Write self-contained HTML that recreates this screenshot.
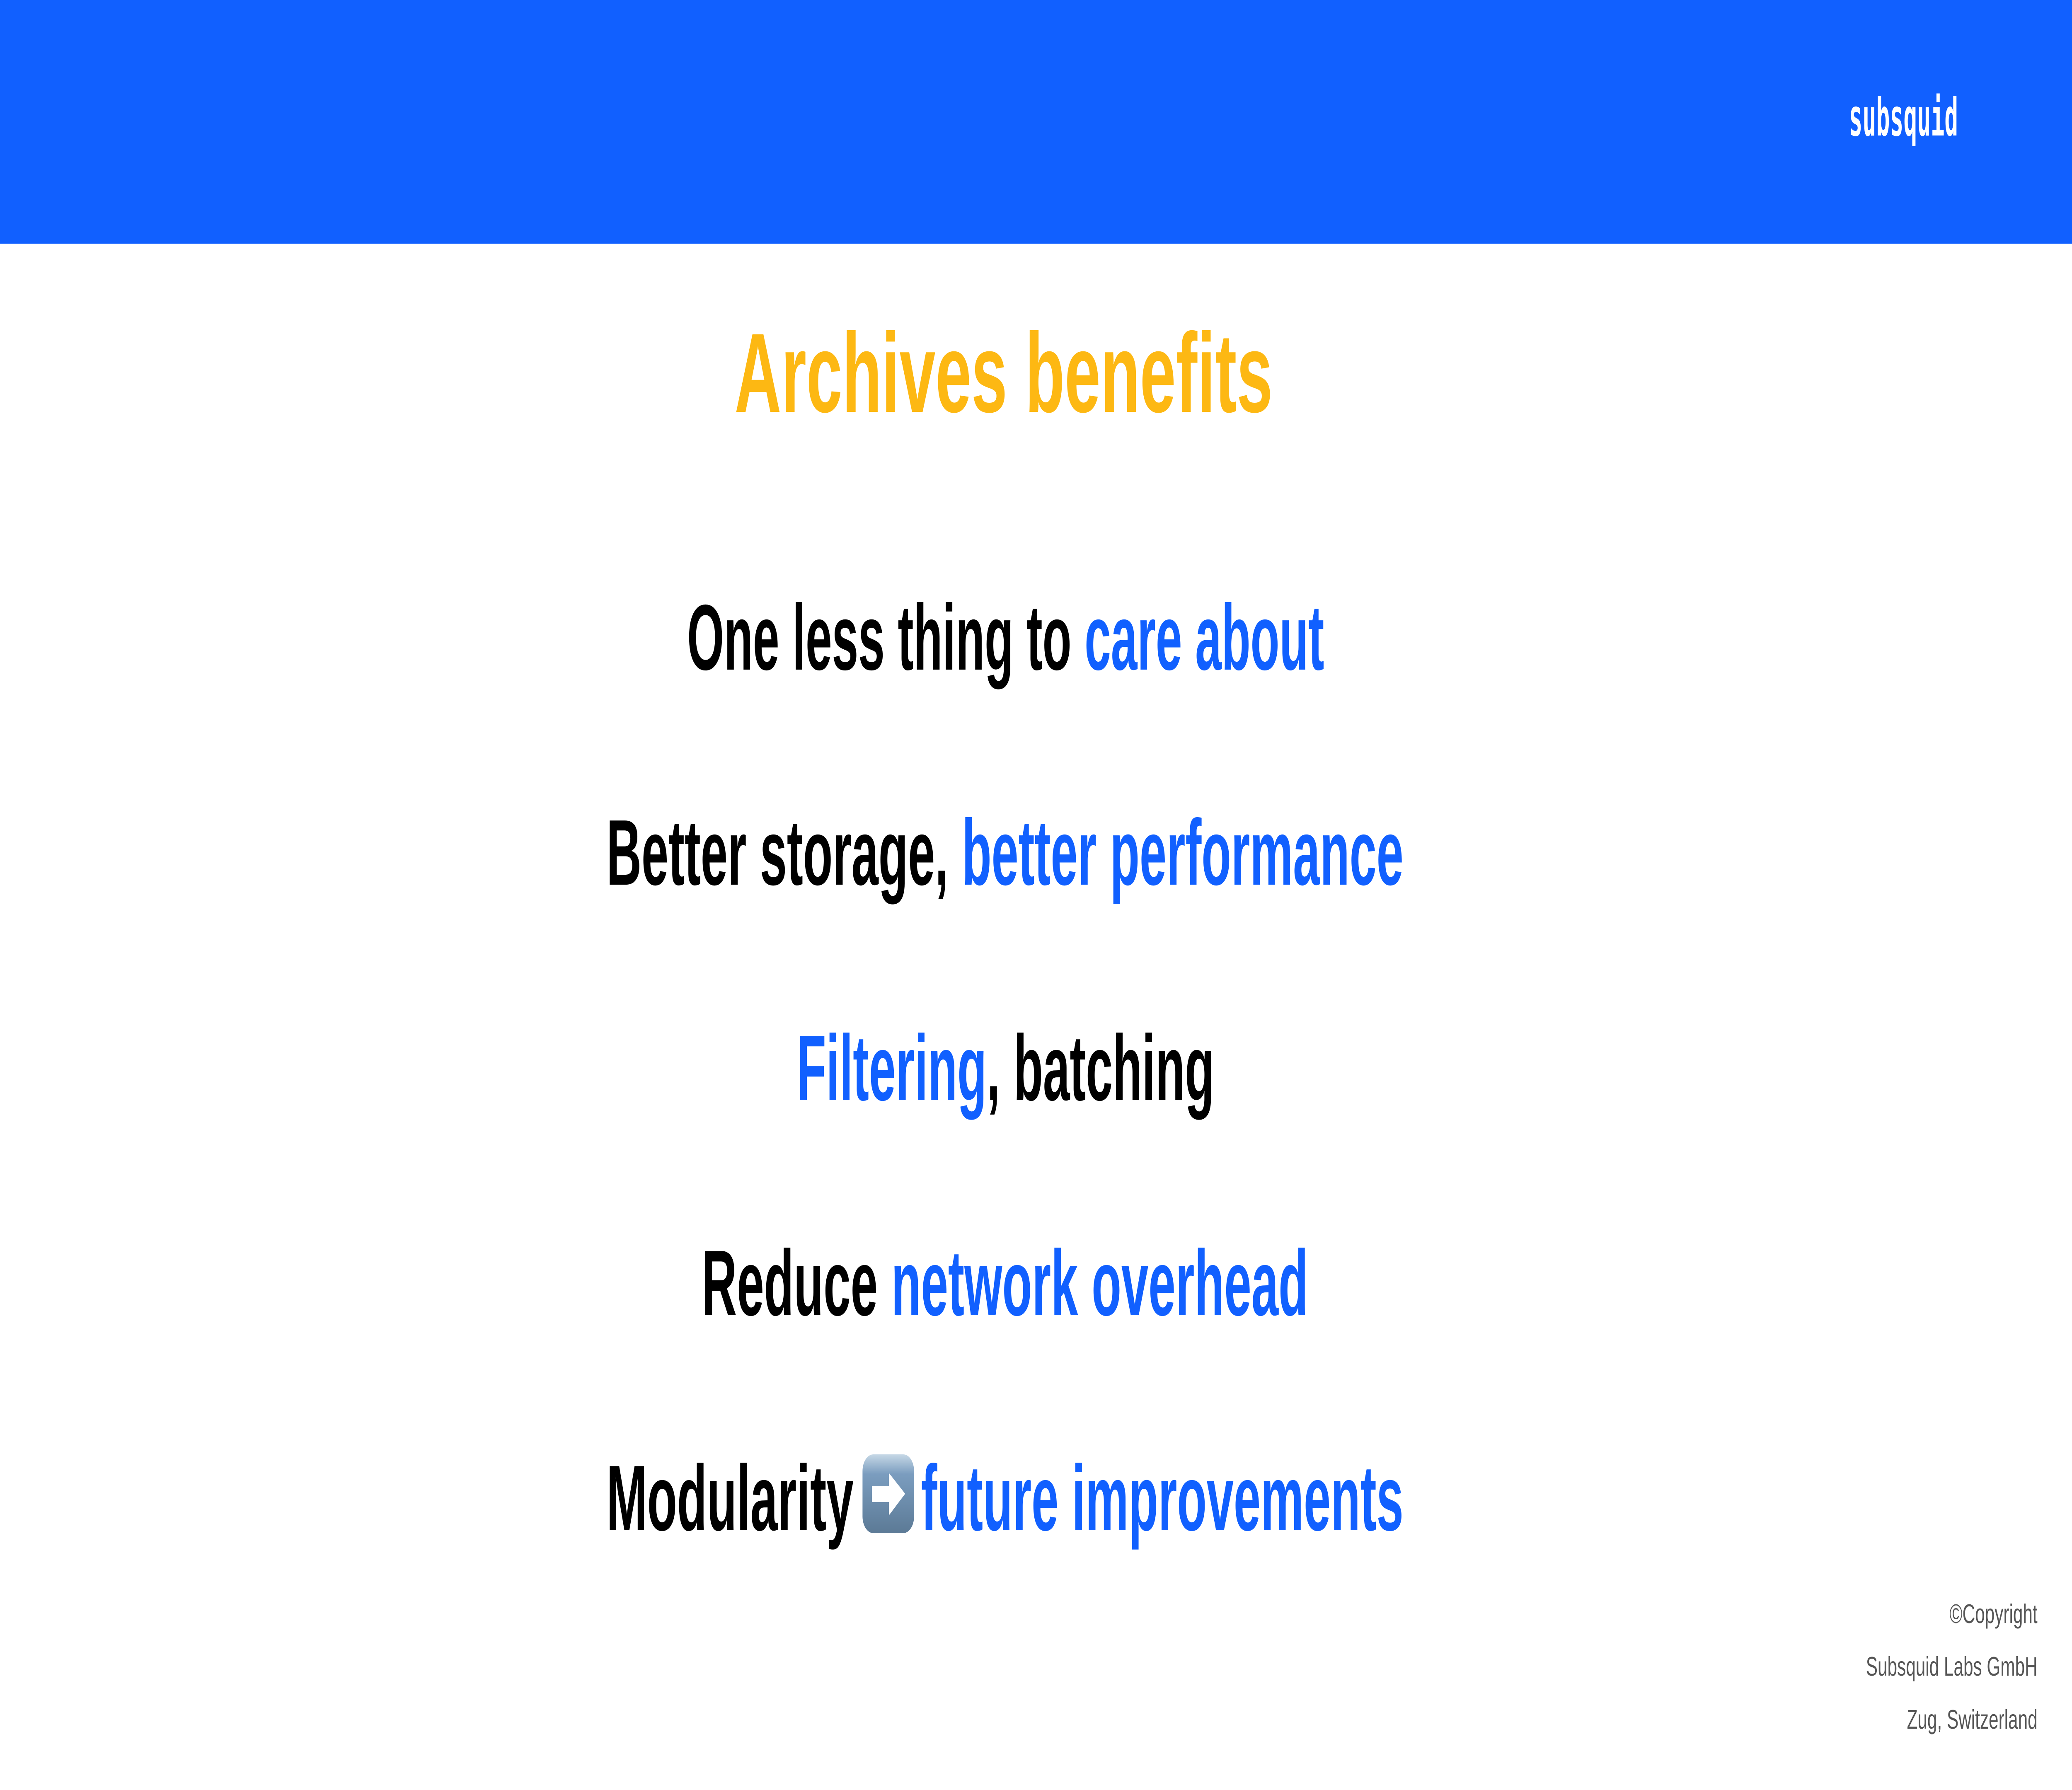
<!DOCTYPE html>
<html><head><meta charset="utf-8"><style>
html,body{margin:0;padding:0;background:#fff;width:100%;height:100%;overflow:hidden;}
svg{display:block;width:100vw;height:100vh;}
</style></head><body>
<svg viewBox="0 0 7680 4320" preserveAspectRatio="none" xmlns="http://www.w3.org/2000/svg" font-family="Liberation Sans, sans-serif">
<rect x="0" y="0" width="7680" height="4320" fill="#ffffff"/>
<rect x="0" y="0" width="7680" height="588" fill="#1160FF"/>
<text x="6853" y="327" font-size="125" font-weight="bold" fill="#ffffff" font-family="DejaVu Sans Mono, Liberation Mono, monospace" textLength="405" lengthAdjust="spacingAndGlyphs">subsquid</text>

<text x="2723" y="994" font-size="272" font-weight="bold" fill="#FDB813" textLength="1994" lengthAdjust="spacingAndGlyphs">Archives benefits</text>

<text x="2547" y="1616" font-size="225" font-weight="bold" fill="#000" textLength="2361" lengthAdjust="spacingAndGlyphs">One less thing to <tspan fill="#1160FF">care about</tspan></text>
<text x="2248" y="2135" font-size="225" font-weight="bold" fill="#000" textLength="2954" lengthAdjust="spacingAndGlyphs">Better storage, <tspan fill="#1160FF">better performance</tspan></text>
<text x="2953" y="2655" font-size="225" font-weight="bold" fill="#000" textLength="1548" lengthAdjust="spacingAndGlyphs"><tspan fill="#1160FF">Filtering</tspan>, batching</text>
<text x="2601" y="3174" font-size="225" font-weight="bold" fill="#000" textLength="2248" lengthAdjust="spacingAndGlyphs">Reduce <tspan fill="#1160FF">network overhead</tspan></text>
<text x="2248" y="3693" font-size="225" font-weight="bold" fill="#000" textLength="916" lengthAdjust="spacingAndGlyphs">Modularity</text>
<defs><linearGradient id="g" x1="0" y1="0" x2="0" y2="1"><stop offset="0" stop-color="#c6d8e6"/><stop offset="0.25" stop-color="#7b9dbf"/><stop offset="1" stop-color="#5c7a96"/></linearGradient></defs>
<rect x="3197" y="3510" width="191" height="190" rx="40" fill="url(#g)"/>
<polygon points="3232,3587 3295,3587 3295,3555 3355,3605 3295,3657 3295,3625 3232,3625" fill="#fff"/>
<text x="3414" y="3693" font-size="225" font-weight="bold" fill="#1160FF" textLength="1788" lengthAdjust="spacingAndGlyphs">future improvements</text>

<g font-size="65" fill="#555" text-anchor="end">
<text x="7552" y="3917">©Copyright</text>
<text x="7552" y="4044">Subsquid Labs GmbH</text>
<text x="7552" y="4172">Zug, Switzerland</text>
</g>
</svg>
</body></html>
